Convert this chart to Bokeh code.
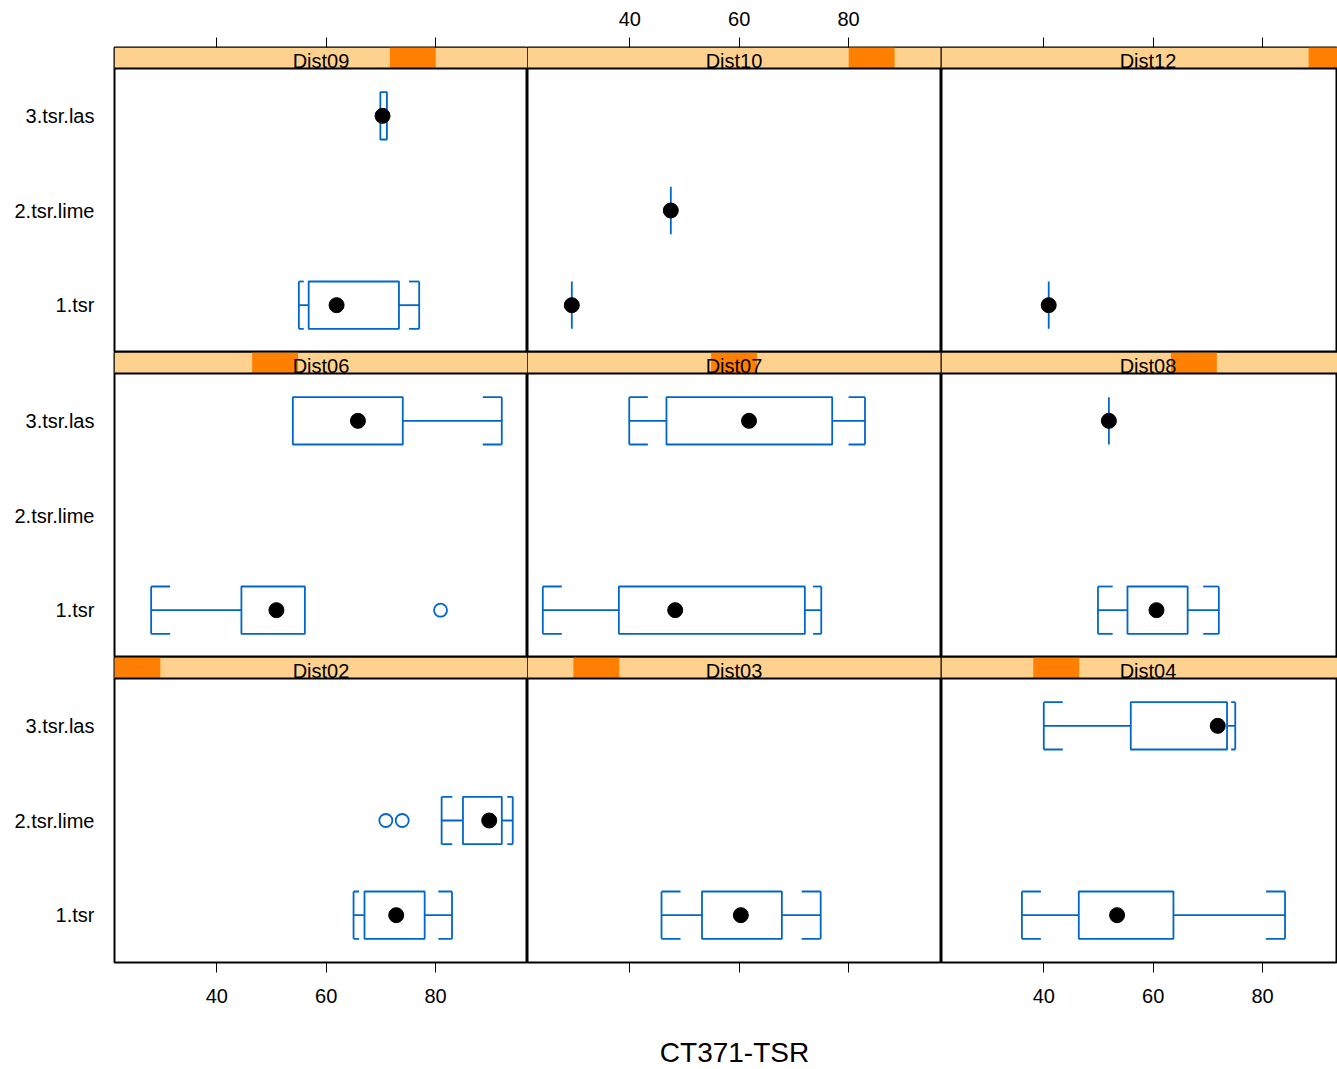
from bokeh.plotting import figure
from bokeh.layouts import gridplot
from bokeh.models import Range1d, LinearAxis, FixedTicker, Span
from bokeh.core.properties import value
from bokeh.embed import file_html
from bokeh.resources import INLINE

# ---------------- data ----------------
levels = ["Dist02", "Dist03", "Dist04", "Dist06", "Dist07", "Dist08", "Dist09", "Dist10", "Dist12"]
groups = ["1.tsr", "2.tsr.lime", "3.tsr.las"]
x_ticks = [40, 60, 80]
x_label = "CT371-TSR"

box_panel = ["Dist02", "Dist02", "Dist03", "Dist04", "Dist04", "Dist06", "Dist06", "Dist07",
             "Dist07", "Dist08", "Dist08", "Dist09", "Dist09", "Dist10", "Dist10", "Dist12"]
box_group = ["1.tsr", "2.tsr.lime", "1.tsr", "1.tsr", "3.tsr.las", "1.tsr", "3.tsr.las", "1.tsr",
             "3.tsr.las", "1.tsr", "3.tsr.las", "1.tsr", "3.tsr.las", "1.tsr", "2.tsr.lime", "1.tsr"]
box_lo  = [65.0, 81.1, 45.8, 36.0, 40.0, 28.0, 53.9, 24.1, 39.9, 49.9, 51.9, 55.0, 69.9, 29.4, 47.5, 40.9]
box_q1  = [67.0, 85.0, 53.2, 46.4, 55.9, 44.5, 53.9, 38.0, 46.7, 55.3, 51.9, 56.8, 69.9, 29.4, 47.5, 40.9]
box_med = [72.8, 89.8, 60.3, 53.4, 71.8, 50.9, 65.8, 48.3, 61.8, 60.6, 51.9, 61.9, 70.3, 29.4, 47.5, 40.9]
box_q3  = [78.0, 92.1, 67.8, 63.7, 73.5, 56.1, 74.0, 72.0, 77.0, 66.3, 51.9, 73.3, 71.1, 29.4, 47.5, 40.9]
box_hi  = [83.0, 94.1, 74.9, 84.1, 75.0, 56.1, 92.1, 75.0, 83.0, 72.0, 51.9, 77.0, 71.1, 29.4, 47.5, 40.9]

out_panel = ["Dist02", "Dist02", "Dist06"]
out_group = ["2.tsr.lime", "2.tsr.lime", "1.tsr"]
out_value = [70.9, 73.9, 80.9]

# ---------------- style ----------------
FONT = "Liberation Sans"
BLUE = "#0066cc"
STRIP_LIGHT = "#ffd18f"
STRIP_DARK = "#ff8000"
X0, X1 = 21.3, 96.8
FRAME_W = [413, 414, 396]
STRIP_PX, PANEL_PX = 21, 284
PX_PER_X = 413 / (X1 - X0)
PX_PER_Y = PANEL_PX / 3.0
Y0, Y_STRIP = 0.5, 3.5
Y1 = Y_STRIP + STRIP_PX / PX_PER_Y
HALF_BOX = 0.25
STUB_MAX = 19 / PX_PER_X


def x_axis(show_labels, standoff):
    ax = LinearAxis(ticker=FixedTicker(ticks=x_ticks), major_tick_out=10, major_tick_in=0,
                    minor_tick_out=0, minor_tick_in=0, axis_line_color=None,
                    major_tick_line_color="black", major_tick_line_width=1,
                    major_label_text_font=FONT, major_label_text_font_size="20px",
                    major_label_text_color="black", major_label_standoff=standoff)
    if not show_labels:
        ax.major_label_overrides = {t: "" for t in x_ticks}
    return ax


figs = []
for r in range(3):
    row_levels = levels[(2 - r) * 3:(2 - r) * 3 + 3]
    row = []
    for c, lev in enumerate(row_levels):
        fw = FRAME_W[c]
        p = figure(frame_width=fw, frame_height=STRIP_PX + PANEL_PX,
                   x_range=Range1d(X0, X0 + fw / PX_PER_X), y_range=Range1d(Y0, Y1),
                   output_backend="svg", toolbar_location=None,
                   x_axis_location=None, y_axis_location=None,
                   min_border_left=114 if c == 0 else 0, min_border_right=0,
                   min_border_top=47 if r == 0 else 0, min_border_bottom=107 if r == 2 else 0)
        p.grid.visible = False
        p.outline_line_color = "black"
        p.outline_line_width = 2
        p.background_fill_color = "white"
        p.border_fill_color = "white"

        # strip
        k = levels.index(lev)
        w = (X1 - X0) / len(levels)
        p.quad(left=[X0], right=[X1], bottom=[Y_STRIP], top=[Y1], fill_color=STRIP_LIGHT, line_color=None)
        p.quad(left=[X0 + k * w], right=[X0 + (k + 1) * w], bottom=[Y_STRIP], top=[Y1],
               fill_color=STRIP_DARK, line_color=None)
        p.text(x=[(X0 + X1) / 2], y=[Y_STRIP + 7.5 / PX_PER_Y], text=[lev], text_align="center",
               text_baseline="middle", text_font=value(FONT), text_font_size="20px",
               text_color="black")
        p.add_layout(Span(location=Y_STRIP, dimension="width", line_color="black", line_width=2))

        # boxes
        bl, br, bb, bt = [], [], [], []
        sx0, sx1, sy0, sy1 = [], [], [], []
        mx, my = [], []
        for i, pan in enumerate(box_panel):
            if pan != lev:
                continue
            y = groups.index(box_group[i]) + 1
            lo, q1, md, q3, hi = box_lo[i], box_q1[i], box_med[i], box_q3[i], box_hi[i]
            bl.append(q1); br.append(q3); bb.append(y - HALF_BOX); bt.append(y + HALF_BOX)
            mx.append(md); my.append(y)
            for a, b in ((lo, q1), (q3, hi)):
                if b > a:
                    sx0.append(a); sx1.append(b); sy0.append(y); sy1.append(y)
            stub_lo = min(0.5 * (q1 - lo), STUB_MAX)
            stub_hi = min(0.5 * (hi - q3), STUB_MAX)
            if q1 > lo:
                sx0 += [lo, lo, lo]; sx1 += [lo, lo + stub_lo, lo + stub_lo]
                sy0 += [y - HALF_BOX, y - HALF_BOX, y + HALF_BOX]; sy1 += [y + HALF_BOX, y - HALF_BOX, y + HALF_BOX]
            if hi > q3:
                sx0 += [hi, hi, hi]; sx1 += [hi, hi - stub_hi, hi - stub_hi]
                sy0 += [y - HALF_BOX, y - HALF_BOX, y + HALF_BOX]; sy1 += [y + HALF_BOX, y - HALF_BOX, y + HALF_BOX]
        if bl:
            p.quad(left=bl, right=br, bottom=bb, top=bt, fill_color=None, line_color=BLUE, line_width=1.8)
        if sx0:
            p.segment(x0=sx0, y0=sy0, x1=sx1, y1=sy1, line_color=BLUE, line_width=1.8)
        ox = [v for v, pan in zip(out_value, out_panel) if pan == lev]
        oy = [groups.index(g) + 1 for g, pan in zip(out_group, out_panel) if pan == lev]
        if ox:
            p.scatter(x=ox, y=oy, marker="circle", size=13, fill_color=None, line_color=BLUE, line_width=1.8)
        if mx:
            p.scatter(x=mx, y=my, marker="circle", size=15, fill_color="black", line_color="black")

        # axes
        if r == 0:
            p.add_layout(x_axis(c == 1, 12), "above")
        if r == 2:
            ax = x_axis(c != 1, 16)
            if c == 1:
                ax.axis_label = x_label
                ax.axis_label_text_font = FONT
                ax.axis_label_text_font_size = "28px"
                ax.axis_label_text_font_style = "normal"
                ax.axis_label_text_color = "black"
                ax.axis_label_standoff = 64
            p.add_layout(ax, "below")
        if c == 0:
            yax = LinearAxis(ticker=FixedTicker(ticks=[1, 2, 3]), major_tick_out=0, major_tick_in=0,
                             minor_tick_out=0, minor_tick_in=0, axis_line_color=None,
                             major_label_text_font=FONT, major_label_text_font_size="20px",
                             major_label_text_color="black", major_label_standoff=20,
                             major_label_overrides={i + 1: g for i, g in enumerate(groups)})
            p.add_layout(yax, "left")
        row.append(p)
    figs.append(row)

grid = gridplot(figs, toolbar_location=None)
open("out.html", "w").write(file_html(grid, INLINE))
